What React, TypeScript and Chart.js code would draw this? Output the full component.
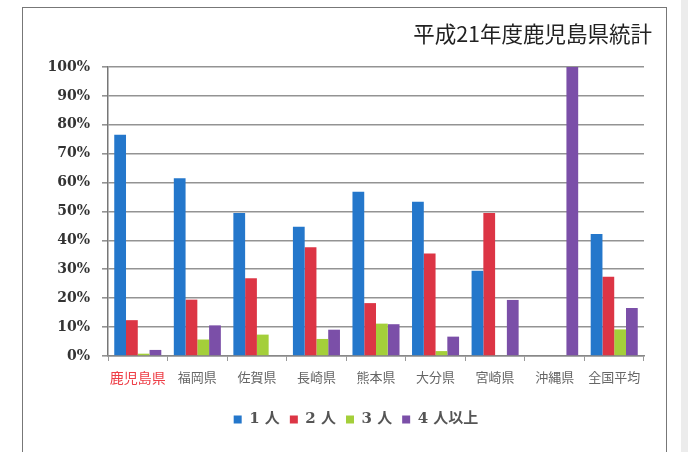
import React, { useEffect, useRef } from "react";
import { Chart, registerables } from "chart.js";

Chart.register(...registerables);

const categories = ["鹿児島県", "福岡県", "佐賀県", "長崎県", "熊本県", "大分県", "宮崎県", "沖縄県", "全国平均"];
const oneP = [76.6, 61.5, 49.5, 44.7, 56.8, 53.4, 29.5, 0, 42.2];
const twoP = [12.4, 19.5, 26.9, 37.6, 18.3, 35.5, 49.5, 0, 27.4];
const threeP = [0.8, 5.7, 7.4, 5.9, 11.2, 1.7, 0, 0, 9.2];
const fourP = [2.1, 10.6, 0, 9.1, 11.0, 6.7, 19.4, 100, 16.6];
const seriesNames = ["1 人", "2 人", "3 人", "4 人以上"];
const seriesColors = ["#2477cb", "#dc3545", "#a4cf3a", "#7b4fa8"];
const yTicks = [0, 10, 20, 30, 40, 50, 60, 70, 80, 90, 100];
const titleText = "平成21年度鹿児島県統計";

const serif = "'DejaVu Serif', 'Noto Sans CJK JP', serif";

const legendShift = {
  id: "legendShift",
  afterLayout(chart: any) {
    if (chart.legend) {
      chart.legend.left += 19;
      chart.legend.right += 19;
    }
  },
};

export default function App() {
  const ref = useRef<HTMLCanvasElement | null>(null);

  useEffect(() => {
    if (!ref.current) return;
    const values = [oneP, twoP, threeP, fourP];
    const chart = new Chart(ref.current, {
      type: "bar",
      data: {
        labels: categories,
        datasets: values.map((d, i) => ({
          label: seriesNames[i],
          data: d,
          backgroundColor: seriesColors[i],
          borderWidth: 0,
          barPercentage: 1.0,
          categoryPercentage: 0.79,
        })),
      },
      plugins: [legendShift],
      options: {
        responsive: false,
        animation: false,
        devicePixelRatio: 1,
        layout: { padding: { left: 30, right: 44, top: 67, bottom: 15 } },
        plugins: {
          title: { display: false },
          tooltip: { enabled: false },
          legend: {
            position: "bottom",
            labels: {
              boxWidth: 8,
              boxHeight: 8,
              padding: 10,
              color: "#555",
              font: { family: serif, size: 15, weight: "bold" },
            },
          },
        },
        scales: {
          y: {
            min: 0,
            max: 100,
            afterFit: (s: any) => {
              s.width = 78;
            },
            afterBuildTicks: (s: any) => {
              s.ticks = yTicks.map((v) => ({ value: v }));
            },
            ticks: {
              stepSize: 10,
              padding: 12,
              color: "#333",
              font: { family: serif, size: 14, weight: "bold" },
              callback: (v: any) => v + "%",
            },
            grid: { color: "#939393", lineWidth: 1.6, tickLength: 6 },
            border: { color: "#777", width: 1.5 },
          },
          x: {
            afterFit: (s: any) => {
              s.height = 46;
            },
            ticks: {
              padding: 8,
              maxRotation: 0,
              minRotation: 0,
              autoSkip: false,
              color: (ctx: any) => (ctx.index === 0 ? "#ee3d46" : "#666"),
              font: (ctx: any) =>
                ctx.index === 0
                  ? { family: "'Noto Sans CJK JP', sans-serif", size: 14 }
                  : { family: "'Noto Sans CJK JP', serif", size: 13 },
            },
            grid: { drawOnChartArea: false, drawTicks: true, tickLength: 5, color: "#999", offset: true },
            border: { color: "#888", width: 1.5 },
          },
        },
      },
    });
    return () => chart.destroy();
  }, []);

  return (
    <div style={{ position: "fixed", left: 0, top: 0, width: 688, height: 452, background: "#fff", overflow: "hidden" }}>
      <div style={{ position: "absolute", left: 681, top: 0, width: 7, height: 452, background: "#ececec" }} />
      <div
        style={{
          position: "absolute",
          left: 22,
          top: 7,
          width: 645,
          height: 470,
          border: "1.5px solid #777",
          boxSizing: "border-box",
        }}
      />
      <canvas ref={ref} width={688} height={452} style={{ position: "absolute", left: 0, top: 0, width: 688, height: 452 }} />
      <div
        style={{
          position: "absolute",
          right: 688 - 652,
          top: 19,
          fontFamily: "'Noto Sans CJK JP', sans-serif",
          fontSize: 21.5,
          lineHeight: "28px",
          color: "#222",
          whiteSpace: "nowrap",
        }}
      >
        {titleText}
      </div>
    </div>
  );
}
